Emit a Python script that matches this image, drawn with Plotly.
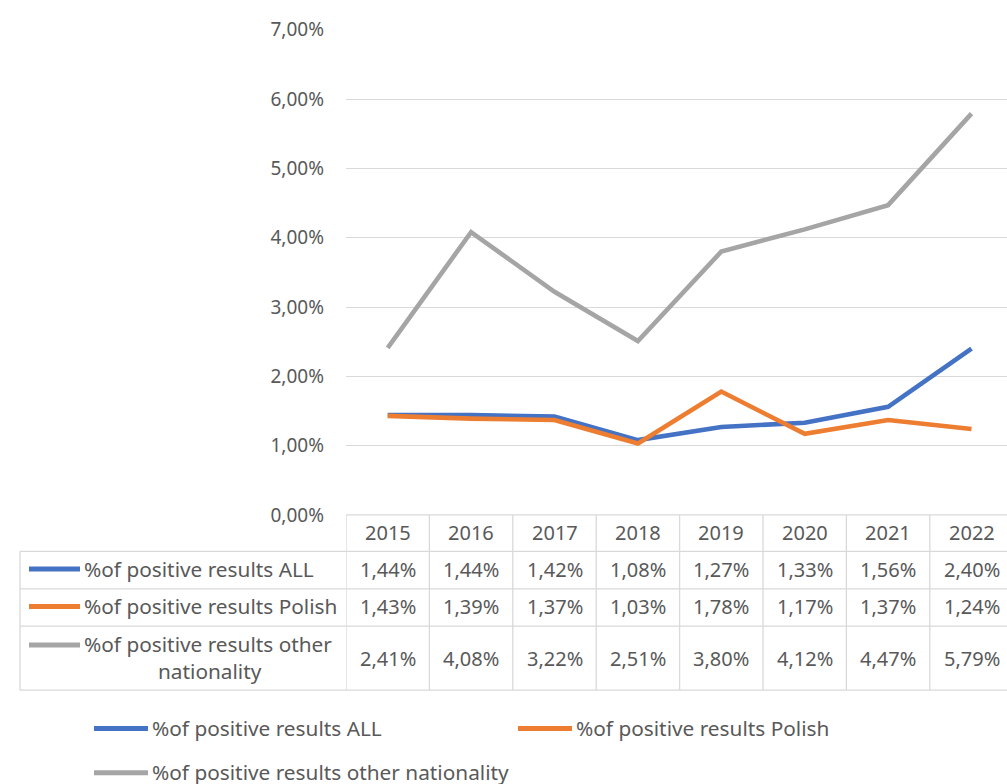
import plotly.graph_objects as go

years = ["2015", "2016", "2017", "2018", "2019", "2020", "2021", "2022"]
series_names = ["%of positive results ALL", "%of positive results Polish", "%of positive results other nationality"]
all_vals = [1.44, 1.44, 1.42, 1.08, 1.27, 1.33, 1.56, 2.40]
polish_vals = [1.43, 1.39, 1.37, 1.03, 1.78, 1.17, 1.37, 1.24]
other_vals = [2.41, 4.08, 3.22, 2.51, 3.80, 4.12, 4.47, 5.79]
y_ticks = [0.00, 0.01, 0.02, 0.03, 0.04, 0.05, 0.06, 0.07]
colors = ["#4472C4", "#ED7D31", "#A5A5A5"]

W, H = 1007, 800
FONT = "Noto Sans"
TXT = "#595959"
GRID = "#D9D9D9"
FS_NUM = 20
FS_TXT = 20.8
FS_TICK = 19

# the page is photographed with a slight vertical compression; compensate
V_OFF, V_SCALE = 0.0, 0.983


def py(y):
    return 1 - ((y - V_OFF) / V_SCALE) / H


def pxx(x):
    return x / W


x_left = 346
col_w_px = 83.4
y_top, y_zero = 17, 510
x_span = (W - x_left) / col_w_px

fig = go.Figure()
series = [all_vals, polish_vals, other_vals]
for name, vals, c in zip(series_names, series, colors):
    fig.add_trace(go.Scatter(
        x=years, y=[v / 100 for v in vals], mode="lines", name=name,
        line=dict(color=c, width=4.6), showlegend=False, hoverinfo="skip"))

shapes = []
annotations = []

row_lines = [510, 547, 585, 623, 688]
gl = dict(color=GRID, width=1.3)
shapes.append(dict(type="line", xref="paper", yref="paper", x0=pxx(x_left), x1=1, y0=py(row_lines[0]),
                   y1=py(row_lines[0]), line=gl))
for yl in row_lines[1:]:
    shapes.append(dict(type="line", xref="paper", yref="paper", x0=pxx(20), x1=1, y0=py(yl), y1=py(yl), line=gl))
shapes.append(dict(type="line", xref="paper", yref="paper", x0=pxx(20), x1=pxx(20), y0=py(row_lines[1]),
                   y1=py(row_lines[-1]), line=gl))
for i in range(len(years)):
    shapes.append(dict(type="line", xref="x", yref="paper", x0=i - 0.5, x1=i - 0.5, y0=py(row_lines[0]),
                       y1=py(row_lines[-1]), line=gl))

fnum = dict(family=FONT, size=FS_NUM, color=TXT)
ftxt = dict(family=FONT, size=FS_TXT, color=TXT)
for i, yr in enumerate(years):
    annotations.append(dict(x=i, xref="x", y=py(528), yref="paper", text=yr, showarrow=False,
                            font=fnum, xanchor="center", yanchor="middle"))
row_centers = [565, 603, 642]
value_y = [565, 603, 656]
for r, (vals, c) in enumerate(zip(series, colors)):
    for i, v in enumerate(vals):
        annotations.append(dict(x=i, xref="x", y=py(value_y[r]), yref="paper",
                                text=f"{v:.2f}%".replace(".", ","), showarrow=False,
                                font=fnum, xanchor="center", yanchor="middle"))
    shapes.append(dict(type="line", xref="paper", yref="paper", x0=pxx(29), x1=pxx(80),
                       y0=py(row_centers[r]), y1=py(row_centers[r]),
                       line=dict(color=c, width=5)))
annotations.append(dict(x=pxx(82), xref="paper", y=py(565), yref="paper", text=series_names[0],
                        showarrow=False, font=ftxt, xanchor="left", yanchor="middle"))
annotations.append(dict(x=pxx(82), xref="paper", y=py(603), yref="paper", text=series_names[1],
                        showarrow=False, font=ftxt, xanchor="left", yanchor="middle"))
annotations.append(dict(x=pxx(82), xref="paper", y=py(641), yref="paper", text="%of positive results other",
                        showarrow=False, font=ftxt, xanchor="left", yanchor="middle"))
annotations.append(dict(x=pxx(210), xref="paper", y=py(669), yref="paper", text="nationality",
                        showarrow=False, font=ftxt, xanchor="center", yanchor="middle"))

leg_pos = [(93, 727), (517, 727), (93, 772)]
for (lx, ly), name, c in zip(leg_pos, series_names, colors):
    shapes.append(dict(type="line", xref="paper", yref="paper", x0=pxx(lx + 1), x1=pxx(lx + 55),
                       y0=py(ly), y1=py(ly), line=dict(color=c, width=5)))
    annotations.append(dict(x=pxx(lx + 57), xref="paper", y=py(ly - 1), yref="paper", text=name,
                            showarrow=False, font=ftxt, xanchor="left", yanchor="middle"))

fig.update_layout(
    width=W, height=H,
    margin=dict(l=0, r=0, t=0, b=0),
    paper_bgcolor="white", plot_bgcolor="white",
    separators=", ",
    xaxis=dict(domain=[pxx(x_left), 1], type="category", range=[-0.5, -0.5 + x_span],
               showticklabels=False, showgrid=False, zeroline=False, showline=False, ticks=""),
    yaxis=dict(domain=[py(y_zero), py(y_top)], range=[0, 0.07], tickmode="array", tickvals=y_ticks,
               tickformat=".2%",
               showgrid=True, gridcolor=GRID, gridwidth=1.3, zeroline=False, showline=False,
               tickfont=dict(family=FONT, size=FS_TICK, color=TXT), ticklabelstandoff=21),
    shapes=shapes, annotations=annotations,
    showlegend=False,
)

page_fix = (
    "var gd=document.getElementById('{plot_id}');"
    "gd.style.position='fixed';gd.style.top='0px';gd.style.left='0px';"
    "document.documentElement.style.margin='0';document.documentElement.style.overflow='hidden';"
    "document.body.style.margin='0';document.body.style.overflow='hidden';"
)

fig.write_html("out.html", config={"displayModeBar": False}, post_script=page_fix)
